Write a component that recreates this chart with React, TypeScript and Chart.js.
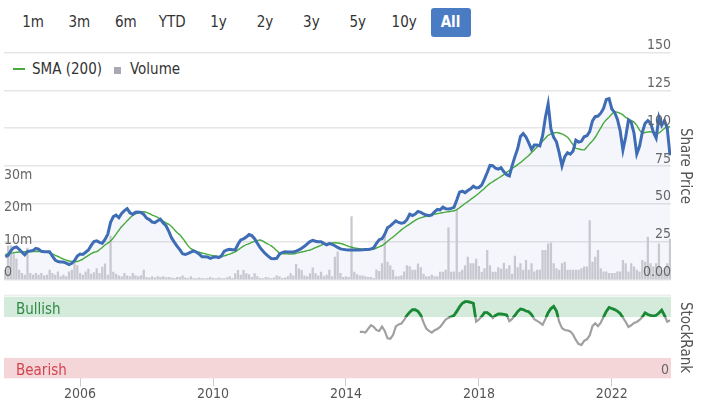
import React, { useEffect, useRef } from "react";
import { Chart, registerables } from "chart.js";

Chart.register(...registerables);

const FONT = '"Liberation Sans Narrow", "DejaVu Sans Condensed", "DejaVu Sans", Arial, sans-serif';

// ---------- labels / ticks ----------
const rangeButtons = ["1m", "3m", "6m", "YTD", "1y", "2y", "3y", "5y", "10y", "All"];
const activeRange = "All";
const xTickYears = [2006, 2010, 2014, 2018, 2022];
const priceTickStep = 25;
const priceMax = 150;
const volumeMaxM = 70;
const volumeLabelMaxM = 30;
const volumeTickStep = 10;
const bullishLevel = 75;
const bearishLevel = 25;

// monthly series, first value = Oct 2003
const startYear = 2003.75;
const axisMinYear = 2003.71;
const axisMaxYear = 2023.78;

// ---------- data ----------
const sharePrice = [
  15, 16, 19,
  21, 21.5, 20, 18, 16.3, 18.5, 18.8, 19.2, 20.5, 20, 18.6, 18.3,
  18.4, 18.4, 15.5, 12.9, 11.9, 11.6, 11.5, 10.8, 9.8, 10.7, 12.5, 15.5,
  16.8, 16.6, 18, 19.5, 22.5, 25, 25.5, 24.5, 24, 26.5, 30, 37.8,
  41.5, 42.5, 40.8, 43.7, 45.5, 46.8, 44, 43, 44.5, 44.6, 44.3, 43,
  40.6, 39.6, 38, 37.6, 38.8, 39.8, 37.3, 35.5, 32, 27.6, 24.7, 22,
  19.7, 17, 16.5, 17.2, 18.1, 18.9, 18, 16.8, 15.1, 15.1, 14.9, 14,
  14.6, 15, 14.5, 15.5, 18.6, 19.5, 19.9, 19.7, 19.6, 23.3, 26.2, 26.9,
  28, 29.7, 29, 27, 23.9, 21.1, 18.8, 16.9, 15.3, 13.9, 13.7, 14,
  16.7, 17.8, 18.4, 18.2, 18.1, 18.2, 18.7, 19.6, 20.7, 21.9, 23.6, 25.1,
  25.9, 25.3, 25, 25, 23.9, 22.9, 23.7, 23.2, 22.3, 21.2, 20.2, 19.9,
  19.6, 19.5, 19.5, 19.5, 19.5, 19.5, 19.6, 19.8, 19.9, 20.2, 20.8, 23.9,
  26.3, 26.9, 29.8, 34.2, 35.4, 37.1, 38.7, 37.7, 37.2, 37.6, 39.5, 43.1,
  42.3, 43.2, 45, 44.4, 43.3, 42.6, 42.1, 42.7, 44.7, 46.3, 46, 47.8,
  46.8, 46.6, 47, 47.7, 52.5, 57.7, 58.4, 57.4, 58.8, 59.9, 61.7, 60.5,
  60.8, 62.4, 66.3, 70.7, 75.4, 75.2, 73.5, 72.9, 73.9, 71.2, 69.3, 68.5,
  75.3, 81.2, 86.5, 94.5, 96.5, 94.2, 90.3, 86, 88.8, 88.8, 88.3, 95,
  107, 116, 99.5, 94, 91, 83.7, 75.1, 81.2, 83.8, 82.8, 84.9, 92.1,
  90.8, 91.3, 94.3, 95, 97.7, 104.8, 107.6, 108, 109.9, 113, 119, 119.5,
  112.7, 110.4, 105.9, 98.4, 85.5, 94.2, 105.3, 103.8, 96.8, 83, 88, 97.3,
  103.2, 105, 103.3, 97.4, 93.5, 107.2, 101.9, 105.1, 100, 82,
];

const sma200 = [
  16.5, 17, 17.4,
  17.7, 18, 18.2, 18.3, 18.4, 18.5, 18.5, 18.5, 18.5, 18.5, 18.4, 18.3,
  18, 17.5, 16.8, 16, 15.2, 14.3, 13.5, 12.8, 12.2, 11.9, 11.8, 11.9,
  12.6, 13.5, 14.8, 16, 17.1, 18, 18.4, 19.7, 21.2, 22.8, 24, 25.4,
  27.5, 30, 32.5, 35, 36.8, 38.8, 40.7, 42.3, 43.4, 44.1, 44.6, 44.8,
  44.4, 43.6, 42.6, 41.9, 41, 39.8, 38.6, 37.4, 36.5, 35, 33, 31,
  29.5, 27.3, 24.8, 22.2, 20.4, 19.4, 18.6, 18, 17.5, 17.1, 16.6, 16.1,
  15.7, 15.4, 15.2, 15.2, 15.6, 16.2, 16.8, 17.5, 18.2, 19.5, 20.8, 22,
  23, 23.7, 24.5, 25.2, 25.8, 26.1, 25.3, 24.2, 23.3, 22.2, 20.8, 19.1,
  17.6, 17.2, 17, 16.9, 16.9, 16.9, 17.3, 17.8, 18.2, 18.6, 19.1, 19.5,
  20.3, 21, 21.8, 22.6, 23.4, 23.7, 24, 24.2, 24.3, 24.1, 23.8, 23.3,
  22.6, 21.9, 21.3, 20.9, 20.6, 20.3, 20.1, 20, 20, 20, 20.1, 20.8,
  21.6, 22.4, 23.7, 25.3, 26.8, 28.1, 29.6, 31.2, 32.8, 34.2, 35.4, 36.6,
  37.9, 39.1, 40.1, 40.7, 41.3, 41.9, 42.5, 42.9, 43.2, 43.5, 43.9, 44.2,
  44.5, 44.8, 45.1, 45.4, 46.2, 47.4, 48.8, 50.2, 51.5, 52.9, 54.2, 55.5,
  57, 58.6, 60.2, 61.9, 63.5, 64.6, 65.8, 66.9, 68.1, 69.3, 70.8, 72.1,
  73.3, 74.6, 75.9, 77.2, 78.8, 80.4, 82, 83.8, 85.6, 87.6, 89.5, 91.4,
  93.3, 95.3, 96.2, 96.8, 97.1, 96.8, 96.2, 95.3, 94, 91.6, 89, 86.7,
  86.3, 85.8, 85.7, 87.5, 89.7, 91.6, 94, 97.1, 100.2, 103.3, 105.5, 107.3,
  109.3, 110.9, 110.5, 109.8, 108.8, 107.1, 106.1, 105.1, 104, 101.8, 98.8, 96.8,
  97.1, 97.5, 97.6, 97.3, 97, 96.8, 98.3, 99.8, 101.1, 100.8,
];

// monthly volume, millions of shares
const volumeM = [
  3, 10.5, 10.6,
  8, 6.5, 3, 2, 1.5, 9.8, 2, 1.5, 2, 1.5, 2, 1.2,
  1.5, 3, 2, 1.5, 2.5, 1, 1.5, 1, 2.5, 3, 5.5, 4.4,
  2, 1.5, 2.5, 3.3, 1.8, 2.2, 3.5, 2, 3.9, 4.9, 1.5, 13.5,
  2.4, 1.8, 1.2, 1, 2, 1.2, 1, 2, 1.3, 1, 1.3, 3,
  0.8, 0.6, 1, 0.6, 1, 0.8, 1, 0.7, 0.8, 0.6, 0.5, 0.8,
  0.8, 1.2, 0.6, 0.5, 1, 0.5, 0.4, 0.6, 0.5, 0.4, 0.5, 0.8,
  0.5, 0.4, 0.6, 0.5, 0.4, 0.6, 1, 0.5, 1.9, 2.9, 1.5, 2.9,
  1.9, 1.6, 0.8, 1.9, 1, 0.5, 0.4, 0.8, 0.6, 0.4, 0.6, 1.2,
  1, 0.5, 0.6, 1, 1.9, 1.2, 4.8, 3.4, 2.9, 1.2, 1, 1.9,
  3.7, 1.9, 1.2, 2.4, 1, 1.5, 3, 1, 7, 8.6, 2, 0.8,
  1, 0.8, 19.5, 2.4, 1.6, 1.2, 1.2, 1, 0.8, 0.8, 0.5, 3.1,
  2.6, 5, 14.2, 5.5, 4.4, 3, 1, 1, 1.2, 2.5, 4.4, 4.1,
  3, 3, 4.9, 3.8, 1.8, 1, 1, 1.5, 1, 1, 2.4, 2.4,
  3, 16, 2.4, 2.5, 21.4, 2.4, 3, 4.4, 7, 5, 5, 6.4,
  4.2, 2.4, 3.5, 9.1, 4.4, 2.4, 2.4, 3.8, 3.3, 5.2, 3.3, 4.4,
  1.8, 7.3, 3.8, 5, 3, 6, 3, 5, 2.5, 3, 3, 9.1,
  9.1, 11.1, 11.4, 5, 3.5, 3, 5, 5.5, 3, 3, 3, 3,
  3, 3.5, 4, 4, 18.3, 5.5, 7, 9.1, 3.5, 2.5, 2.5, 2,
  2, 2, 2.5, 2.5, 6, 5, 2.5, 5, 4, 3, 2.5, 6,
  5.5, 13.2, 5, 4, 5, 11.1, 3, 3.5, 5, 12.6,
];

// StockRank, monthly from Jun 2014 (month index 128)
const rankStartIndex = 128;
const stockRank = [
  57, 57, 56, 60.5, 65, 63, 59,
  58, 63.5, 58, 49, 48.5, 53, 63.5, 66, 67, 71.5, 77, 81,
  84, 84, 82, 77.5, 68.5, 61, 58, 56, 59, 60.5, 63, 67.5,
  72, 74, 75.3, 77, 82, 87.5, 92, 93.9, 93.9, 93, 92, 69.4,
  72, 75.8, 80.5, 80.5, 78, 73.8, 77, 78.8, 78.8, 78.3, 77.7, 70,
  72.8, 77, 81.8, 85, 84.2, 82.5, 81.6, 78, 72.3, 70.4, 68.2, 65.5,
  72.5, 80.5, 85.5, 88.2, 82.5, 69, 61.5, 59.2, 58.7, 57.5, 53.5, 47,
  42, 41, 46, 47.8, 52.5, 64, 67.3, 64, 68.3, 75, 82, 86.8,
  85.5, 84.2, 82.4, 79.5, 74.3, 69, 63, 65, 67.8, 69, 71.5, 75,
  80.2, 78.2, 77, 76.3, 77.3, 80, 83.5, 77, 69.4, 71,
];

// ---------- styles ----------
const BLUE = "#3e6db6";
const GREEN = "#46aa3c";
const VOL_GRAY = "#c8c8d0";
const GRID = "#e6e6e6";
const TICK_COLOR = "#666666";
const RANK_GRAY = "#a0a0a0";
const RANK_GREEN = "#188a34";

const monthYear = (i: number) => startYear + i / 12;

const bandsPlugin = {
  id: "rankBands",
  beforeDatasetsDraw(chart: any) {
    const { ctx, chartArea } = chart;
    const y = chart.scales.rank;
    const l = chartArea.left;
    const w = chartArea.right - chartArea.left;
    const yTop = y.getPixelForValue(100);
    const yBull = y.getPixelForValue(bullishLevel);
    const yBear = y.getPixelForValue(bearishLevel);
    const yBot = y.getPixelForValue(0);
    ctx.save();
    ctx.fillStyle = "#e6e6e6";
    ctx.fillRect(l, yTop - 2, w, 1);
    ctx.fillStyle = "#d4eadb";
    ctx.fillRect(l, yTop, w, yBull - yTop);
    ctx.fillStyle = "#f5d6d8";
    ctx.fillRect(l, yBear, w, yBot - yBear);
    ctx.font = `15px ${FONT}`;
    ctx.textBaseline = "middle";
    ctx.textAlign = "left";
    ctx.fillStyle = "#2f8a45";
    ctx.fillText("Bullish", l + 12, (yTop + yBull) / 2 + 3);
    ctx.fillStyle = "#d2444f";
    ctx.fillText("Bearish", l + 12, (yBear + yBot) / 2 + 3);
    ctx.restore();
  },
};

// the bullish copy of the StockRank line is only shown inside the Bullish band
const bullishClipPlugin = {
  id: "bullishClip",
  beforeDatasetDraw(chart: any, args: any) {
    if (args.index !== 1) return;
    const { ctx, chartArea } = chart;
    const yBull = chart.scales.rank.getPixelForValue(bullishLevel);
    ctx.save();
    ctx.beginPath();
    ctx.rect(chartArea.left, chartArea.top - 5, chartArea.right - chartArea.left, yBull - chartArea.top + 5);
    ctx.clip();
  },
  afterDatasetDraw(chart: any, args: any) {
    if (args.index !== 1) return;
    chart.ctx.restore();
  },
};

export default function App() {
  const priceRef = useRef<HTMLCanvasElement>(null);
  const rankRef = useRef<HTMLCanvasElement>(null);

  useEffect(() => {
    const tickFont = { family: FONT, size: 14 };
    const priceChart = new Chart(priceRef.current as HTMLCanvasElement, {
      type: "bar",
      data: {
        datasets: [
          {
            type: "line",
            label: "Share Price",
            data: sharePrice.map((v, i) => ({ x: monthYear(i), y: v })),
            yAxisID: "price",
            borderColor: BLUE,
            borderWidth: 3,
            pointRadius: 0,
            tension: 0,
            fill: "origin",
            backgroundColor: "rgba(62,109,182,0.06)",
            order: 0,
          } as any,
          {
            type: "line",
            label: "SMA (200)",
            data: sma200.map((v, i) => ({ x: monthYear(i), y: v })),
            yAxisID: "price",
            borderColor: GREEN,
            borderWidth: 1.4,
            pointRadius: 0,
            tension: 0.3,
            fill: false,
            order: 1,
          } as any,
          {
            type: "bar",
            label: "Volume",
            data: volumeM.map((v, i) => ({ x: monthYear(i), y: v })),
            yAxisID: "vol",
            backgroundColor: VOL_GRAY,
            barPercentage: 1,
            categoryPercentage: 0.82,
            order: 2,
          } as any,
        ],
      },
      options: {
        animation: false,
        responsive: false,
        maintainAspectRatio: false,
        layout: { padding: { top: 52.5, bottom: 10.5, left: 0, right: 0 } },
        plugins: {
          legend: { display: false },
          tooltip: { enabled: false },
          filler: { drawTime: "beforeDatasetsDraw" },
        } as any,
        scales: {
          x: { type: "linear", min: axisMinYear, max: axisMaxYear, display: false, offset: false },
          vol: {
            type: "linear",
            position: "left",
            min: 0,
            max: volumeMaxM,
            grid: { display: false },
            border: { display: false },
            ticks: {
              z: 1,
              mirror: true,
              stepSize: volumeTickStep,
              labelOffset: -7,
              padding: 0,
              color: TICK_COLOR,
              font: tickFont,
              callback: (v: any) => (v === 0 ? "0" : v <= volumeLabelMaxM ? `${v}m` : null),
            },
            afterFit: (s: any) => {
              s.width = 4;
            },
          },
          price: {
            type: "linear",
            position: "right",
            min: 0,
            max: priceMax,
            grid: { color: GRID, lineWidth: 1.5, drawTicks: false },
            border: { display: false },
            ticks: {
              z: 1,
              mirror: true,
              stepSize: priceTickStep,
              labelOffset: -7,
              padding: 0,
              color: TICK_COLOR,
              font: tickFont,
              callback: (v: any) => (v === 0 ? "0.00" : String(v)),
            },
            title: {
              display: true,
              text: "Share Price",
              color: "#555555",
              font: { family: FONT, size: 15 },
              padding: { top: 10, bottom: 0 },
            },
            afterFit: (s: any) => {
              s.width = 33;
            },
          },
        } as any,
      },
    });

    const rankData = stockRank.map((v, k) => ({ x: monthYear(k + rankStartIndex), y: v }));
    const rankChart = new Chart(rankRef.current as HTMLCanvasElement, {
      type: "line",
      data: {
        datasets: [
          {
            label: "StockRank",
            data: rankData,
            yAxisID: "rank",
            borderColor: RANK_GRAY,
            borderWidth: 2.2,
            pointRadius: 0,
            tension: 0,
            fill: false,
            order: 2,
          },
          {
            label: "StockRank (bullish)",
            data: rankData,
            yAxisID: "rank",
            borderColor: RANK_GREEN,
            borderWidth: 2.8,
            pointRadius: 0,
            tension: 0,
            fill: false,
            order: 1,
          },
        ],
      },
      options: {
        animation: false,
        responsive: false,
        maintainAspectRatio: false,
        layout: { padding: { top: 6.7, left: 4, right: 0, bottom: 0 } },
        plugins: { legend: { display: false }, tooltip: { enabled: false } },
        scales: {
          x: {
            type: "linear",
            min: axisMinYear,
            max: axisMaxYear,
            offset: false,
            grid: { drawOnChartArea: false, drawTicks: true, tickLength: 8, color: "#cccccc" },
            border: { display: false },
            afterBuildTicks: (s: any) => {
              s.ticks = xTickYears.map((v) => ({ value: v }));
            },
            ticks: {
              padding: 0,
              color: "#555555",
              font: tickFont,
              maxRotation: 0,
              autoSkip: false,
              callback: (v: any) => String(v),
            },
            afterFit: (s: any) => {
              s.height = 20.7;
            },
          },
          rank: {
            type: "linear",
            position: "right",
            min: 0,
            max: 100,
            grid: { display: false },
            border: { display: false },
            afterBuildTicks: (s: any) => {
              s.ticks = [{ value: 0 }];
            },
            ticks: {
              z: 1,
              mirror: true,
              labelOffset: -8,
              padding: -2,
              color: TICK_COLOR,
              font: tickFont,
              callback: (v: any) => String(v),
            },
            title: {
              display: true,
              text: "StockRank",
              color: "#555555",
              font: { family: FONT, size: 15 },
              padding: { top: 10, bottom: 0 },
            },
            afterFit: (s: any) => {
              s.width = 33;
            },
          },
        } as any,
      },
      plugins: [bandsPlugin, bullishClipPlugin],
    });

    return () => {
      priceChart.destroy();
      rankChart.destroy();
    };
  }, []);

  return (
    <div style={{ position: "absolute", left: 0, top: 0, width: 704, height: 399, background: "#fff", overflow: "hidden", fontFamily: FONT }}>
      <div style={{ position: "absolute", left: 13, top: 8, display: "flex" }}>
        {rangeButtons.map((b) => (
          <div
            key={b}
            style={{
              width: 40,
              height: 29,
              marginRight: 6.4,
              lineHeight: "29px",
              textAlign: "center",
              fontSize: 15,
              borderRadius: 3,
              color: b === activeRange ? "#ffffff" : "#333333",
              background: b === activeRange ? "#4a7cc4" : "transparent",
              fontWeight: b === activeRange ? 600 : 400,
            }}
          >
            {b}
          </div>
        ))}
      </div>
      <div style={{ position: "absolute", left: 13, top: 60, height: 18, display: "flex", alignItems: "center", fontSize: 15, color: "#333" }}>
        <span style={{ display: "inline-block", width: 12, height: 2, background: GREEN, marginRight: 7 }} />
        <span>SMA (200)</span>
        <span style={{ display: "inline-block", width: 7, height: 7, background: "#a9a9b3", marginLeft: 12, marginRight: 9, marginTop: 3 }} />
        <span>Volume</span>
      </div>
      <canvas ref={priceRef} width={704} height={290} style={{ position: "absolute", left: 0, top: 0 }} />
      <canvas ref={rankRef} width={704} height={109} style={{ position: "absolute", left: 0, top: 290 }} />
    </div>
  );
}
